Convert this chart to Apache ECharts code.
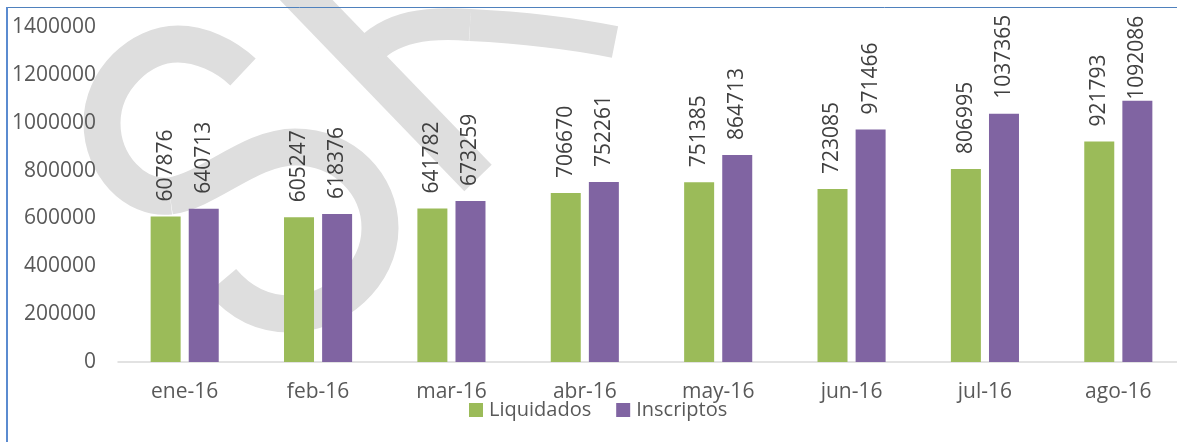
<!DOCTYPE html>
<html>
<head>
<meta charset="utf-8">
<script src="https://cdn.jsdelivr.net/npm/echarts@6/dist/echarts.min.js"></script>
<style>
  html, body { margin: 0; padding: 0; background: #fff; }
  #chart { width: 1177px; height: 442px; }
</style>
</head>
<body>
<div id="chart"></div>
<script>
const months = ['ene-16', 'feb-16', 'mar-16', 'abr-16', 'may-16', 'jun-16', 'jul-16', 'ago-16']
const liquidados = [607876, 605247, 641782, 706670, 751385, 723085, 806995, 921793]
const inscriptos = [640713, 618376, 673259, 752261, 864713, 971466, 1037365, 1092086]
const yMin = 0
const yMax = 1400000
const yStep = 200000

// grey watermark behind the plot (decoration only), cubic pieces: x1,y1, c1, c2, x2,y2
const wmS = [
  [243, 72, 225, 55, 200, 44, 178, 44],
  [178, 44, 140, 44, 102, 80, 102, 123],
  [102, 123, 102, 165, 135, 200, 170, 196],
  [170, 196, 210, 190, 250, 147, 295, 147],
  [295, 147, 345, 147, 380, 185, 380, 228],
  [380, 228, 380, 275, 335, 314, 290, 314],
  [290, 314, 260, 314, 238, 300, 222, 281]
]
const wmArm = [
  [365, 55, 390, 25, 430, 22, 470, 25],
  [470, 25, 530, 28, 580, 35, 615, 42]
]

const font = 'Open Sans'
const chart = echarts.init(document.getElementById('chart'))

// Excel pushes a label down when it would leave the plot area
const withLabel = arr => arr.map(v => v > 1050000 ? { value: v, label: { distance: 1 } } : v)

const barLabel = {
  show: true,
  position: 'top',
  rotate: 90,
  align: 'left',
  verticalAlign: 'middle',
  distance: 15,
  fontFamily: font,
  fontSize: 21,
  color: '#404040'
}

const wmStyle = w => ({ stroke: '#dedede', lineWidth: w, fill: null, lineCap: 'butt' })
const wmCurve = (p, w) => ({
  type: 'bezierCurve', z: -10, silent: true,
  shape: { x1: p[0], y1: p[1], cpx1: p[2], cpy1: p[3], cpx2: p[4], cpy2: p[5], x2: p[6], y2: p[7] },
  style: wmStyle(w)
})

chart.setOption({
  animation: false,
  textStyle: { fontFamily: font },
  grid: { left: 118, right: -8, top: 27, bottom: 80, outerBoundsMode: 'none' },
  legend: {
    data: ['Liquidados', 'Inscriptos'],
    left: 469,
    top: 400,
    padding: 0,
    icon: 'rect',
    itemWidth: 14,
    itemHeight: 14,
    itemGap: 25,
    textStyle: { fontFamily: font, fontSize: 20, color: '#595959', padding: [0, 0, 0, 1] }
  },
  xAxis: {
    type: 'category',
    data: months,
    axisLine: { lineStyle: { color: '#d9d9d9', width: 1.5 } },
    axisTick: { show: false },
    axisLabel: { fontFamily: font, fontSize: 21, color: '#595959', margin: 20 }
  },
  yAxis: {
    type: 'value',
    min: yMin,
    max: yMax,
    interval: yStep,
    axisLine: { show: false },
    axisTick: { show: false },
    splitLine: { show: false },
    axisLabel: {
      fontFamily: font, fontSize: 21, color: '#595959', margin: 22,
      formatter: v => String(v)
    }
  },
  series: [
    {
      name: 'Liquidados',
      type: 'bar',
      data: withLabel(liquidados),
      barWidth: 30,
      barGap: '27%',
      itemStyle: { color: '#9bbb59' },
      label: barLabel
    },
    {
      name: 'Inscriptos',
      type: 'bar',
      data: withLabel(inscriptos),
      barWidth: 30,
      itemStyle: { color: '#8064a2' },
      label: barLabel
    }
  ],
  graphic: [
    ...wmS.map(p => wmCurve(p, 37)),
    ...wmArm.map(p => wmCurve(p, 32)),
    {
      type: 'line', z: -10, silent: true,
      shape: { x1: 285, y1: -22, x2: 478, y2: 178 },
      style: wmStyle(38)
    },
    {
      type: 'line', z: 100, silent: true,
      shape: { x1: 7, y1: 7.5, x2: 1177, y2: 7.5 },
      style: { stroke: '#4f81bd', lineWidth: 1 }
    },
    {
      type: 'line', z: 100, silent: true,
      shape: { x1: 7, y1: 7, x2: 7, y2: 442 },
      style: { stroke: '#5b8bd0', lineWidth: 2 }
    }
  ]
})

window.addEventListener('resize', () => chart.resize())
</script>
</body>
</html>
